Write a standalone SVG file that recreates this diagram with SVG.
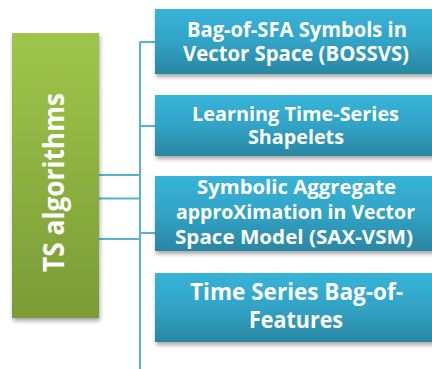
<svg xmlns="http://www.w3.org/2000/svg" width="432" height="369" viewBox="0 0 432 369">
  <defs>
    <linearGradient id="gBlue" x1="0" y1="0" x2="0" y2="1">
      <stop offset="0" stop-color="#37b4d9"/>
      <stop offset="0.5" stop-color="#31a3c6"/>
      <stop offset="1" stop-color="#2a86a2"/>
    </linearGradient>
    <linearGradient id="gGreen" x1="0" y1="0" x2="0" y2="1">
      <stop offset="0" stop-color="#9fc64b"/>
      <stop offset="1" stop-color="#7a9b36"/>
    </linearGradient>
    <filter id="shadow" x="-10%" y="-10%" width="120%" height="130%">
      <feGaussianBlur in="SourceAlpha" stdDeviation="2"/>
      <feOffset dx="1" dy="3" result="b"/>
      <feComponentTransfer><feFuncA type="linear" slope="0.35"/></feComponentTransfer>
      <feMerge><feMergeNode/><feMergeNode in="SourceGraphic"/></feMerge>
    </filter>
  </defs>
  <style>
    .box { fill: url(#gBlue); filter: url(#shadow); }
    .root { fill: url(#gGreen); filter: url(#shadow); }
    .lbl { font-family: "Open Sans", "Noto Sans", "Liberation Sans", sans-serif; font-weight: bold; fill: #ffffff; text-anchor: middle; }
    .conn { stroke: #55b3d1; stroke-width: 2; fill: none; }
  </style>
  <rect width="432" height="369" fill="#ffffff"/>

  <g id="connectors">
    <path class="conn" d="M140 42 V369"/>
    <path class="conn" d="M140 42 H155"/>
    <path class="conn" d="M140 126 H155"/>
    <path class="conn" d="M140 233 H155"/>
    <path class="conn" d="M99 175 H140"/>
    <path class="conn" d="M99 198.5 H140"/>
    <path class="conn" d="M99 239 H140"/>
  </g>

  <g id="ts-algorithms">
    <rect class="root" x="12" y="33" width="87" height="285"/>
    <text class="lbl" font-size="28" transform="translate(64 182.5) rotate(-90)" x="0" y="0" textLength="179" lengthAdjust="spacingAndGlyphs">TS algorithms</text>
  </g>

  <g id="bossvs">
    <rect class="box" x="155" y="9" width="285" height="65"/>
    <text class="lbl" font-size="21" x="297" y="37" textLength="220" lengthAdjust="spacingAndGlyphs">Bag-of-SFA Symbols in</text>
    <text class="lbl" font-size="21" x="296" y="61" textLength="226" lengthAdjust="spacingAndGlyphs">Vector Space (BOSSVS)</text>
  </g>

  <g id="shapelets">
    <rect class="box" x="155" y="95" width="285" height="61"/>
    <text class="lbl" font-size="19.5" x="295.5" y="121" textLength="207" lengthAdjust="spacingAndGlyphs">Learning Time-Series</text>
    <text class="lbl" font-size="19.5" x="296" y="144" textLength="96" lengthAdjust="spacingAndGlyphs">Shapelets</text>
  </g>

  <g id="sax-vsm">
    <rect class="box" x="155" y="176" width="285" height="75"/>
    <text class="lbl" font-size="20" x="296.5" y="194" textLength="199" lengthAdjust="spacingAndGlyphs">Symbolic Aggregate</text>
    <text class="lbl" font-size="20" x="295.5" y="219" textLength="239" lengthAdjust="spacingAndGlyphs">approXimation in Vector</text>
    <text class="lbl" font-size="20" x="294" y="244" textLength="238" lengthAdjust="spacingAndGlyphs">Space Model (SAX-VSM)</text>
  </g>

  <g id="ts-bag-of-features">
    <rect class="box" x="155" y="273" width="285" height="69"/>
    <text class="lbl" font-size="23.5" x="296.5" y="300" textLength="213" lengthAdjust="spacingAndGlyphs">Time Series Bag-of-</text>
    <text class="lbl" font-size="23.5" x="296" y="328" textLength="94" lengthAdjust="spacingAndGlyphs">Features</text>
  </g>
</svg>
